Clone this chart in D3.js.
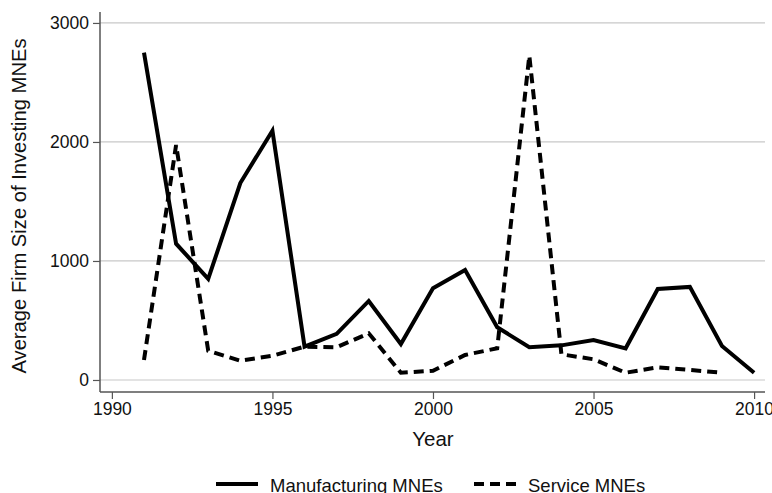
<!DOCTYPE html>
<html><head><meta charset="utf-8">
<script src="https://cdn.jsdelivr.net/npm/d3@7"></script>
<style>body{margin:0;background:#fff}svg{display:block;font-family:"Liberation Sans",Arial,sans-serif}</style>
</head><body>
<svg id="c" width="772" height="493"></svg>
<script>
const years = [1991,1992,1993,1994,1995,1996,1997,1998,1999,2000,2001,2002,2003,2004,2005,2006,2007,2008,2009,2010];
const manufacturing = [2750,1145,849,1655,2095,280,387,664,302,770,924,443,275,291,336,266,765,782,286,61];
const serviceYears = [1991,1992,1993,1994,1995,1996,1997,1998,1999,2000,2001,2002,2003,2004,2005,2006,2007,2008,2009];
const service = [168,1975,246,162,204,280,275,392,61,78,210,266,2725,216,174,61,106,84,61];
const xTicks = [1990,1995,2000,2005,2010];
const yTicks = [0,1000,2000,3000];
const seriesNames = ["Manufacturing MNEs","Service MNEs"];

const svg = d3.select("#c");
const L = 100, R = 765, T = 12, B = 392;
const x = d3.scaleLinear().domain([1989.63, 2010.34]).range([L, R]);
const y = d3.scaleLinear().domain([-101, 3092]).range([B, T]);

// gridlines
svg.append("g").selectAll("line").data(yTicks).join("line")
  .attr("x1", L).attr("x2", R).attr("y1", d => y(d)).attr("y2", d => y(d))
  .attr("stroke", "#c8c8c8").attr("stroke-width", 1.2);

// axes
const yAxis = svg.append("g").attr("transform", `translate(${L},0)`)
  .call(d3.axisLeft(y).tickValues(yTicks).tickSize(7).tickPadding(4).tickFormat(d3.format("d")));
const xAxis = svg.append("g").attr("transform", `translate(0,${B})`)
  .call(d3.axisBottom(x).tickValues(xTicks).tickSize(7).tickPadding(4).tickFormat(d3.format("d")));
[xAxis, yAxis].forEach(a => {
  a.select(".domain").attr("stroke", "#555").attr("stroke-width", 1.5);
  a.selectAll(".tick line").attr("stroke", "#555").attr("stroke-width", 1.2);
  a.selectAll("text").attr("font-size", 17.5).attr("fill", "#111")
   .attr("font-family", '"Liberation Sans",Arial,sans-serif');
});
xAxis.select(".domain").attr("d", `M${L},0H${R}`);
yAxis.select(".domain").attr("d", `M0,${B}V${T}`);

// lines
const line = d3.line().x(d => x(d[0])).y(d => y(d[1]));
svg.append("path").datum(years.map((yr, i) => [yr, manufacturing[i]]))
  .attr("d", line).attr("fill", "none").attr("stroke", "#000").attr("stroke-width", 4)
  .attr("stroke-linejoin", "miter");
svg.append("path").datum(serviceYears.map((yr, i) => [yr, service[i]]))
  .attr("d", line).attr("fill", "none").attr("stroke", "#000").attr("stroke-width", 4)
  .attr("stroke-dasharray", "10,6").attr("stroke-linejoin", "miter");

// axis titles
svg.append("text").attr("x", x(2000)).attr("y", 446).attr("text-anchor", "middle")
  .attr("font-size", 20.5).attr("fill", "#111").text("Year");
svg.append("text").attr("transform", `translate(26,${(T + B) / 2 + 4}) rotate(-90)`)
  .attr("text-anchor", "middle").attr("font-size", 20.2).attr("fill", "#111")
  .text("Average Firm Size of Investing MNEs");

// legend
const leg = svg.append("g");
const legItems = [{x: 216, dash: null}, {x: 474, dash: "10,6"}];
legItems.forEach((it, i) => {
  leg.append("line").attr("x1", it.x).attr("x2", it.x + 42).attr("y1", 484).attr("y2", 484)
    .attr("stroke", "#000").attr("stroke-width", 4).attr("stroke-dasharray", it.dash);
  leg.append("text").attr("x", it.x + 54).attr("y", 491.5).attr("font-size", 18.5).attr("fill", "#111")
    .text(seriesNames[i]);
});
</script>
</body></html>
